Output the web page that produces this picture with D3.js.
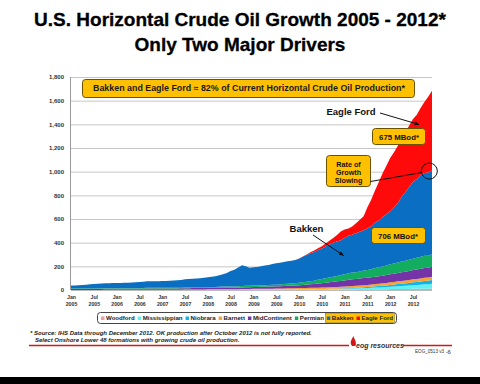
<!DOCTYPE html>
<html>
<head>
<meta charset="utf-8">
<script src="https://cdn.jsdelivr.net/npm/d3@7"></script>
<style>
  body { margin: 0; background: #fff; }
  svg { display: block; font-family: "Liberation Sans", Arial, sans-serif; }
</style>
</head>
<body>
<div id="chart"></div>
<script>
// monthly values, Jan 2005 - Dec 2012, MBod
const seriesNames = ["Woodford", "Mississippian", "Niobrara", "Barnett", "MidContinent", "Permian", "Bakken", "Eagle Ford"];

const woodford = [
  0,0,0,0,0,0,0,0,0,0,0,0,
  0,0,0,0,0,0,0,0,0,0,0,0,
  0,0,0,0,0,0,0,0,0,0,0,0,
  1,1,1,1,1,1,1,1,1,1,1,1,
  2,2,2,2,2,2,2,2,2,2,2,2,
  2,2,2,3,3,3,3,3,4,4,4,4,
  5,5,5,5,6,6,6,6,7,7,7,7,
  8,8,8,9,9,9,10,10,10,11,11,12
];
const mississippian = [
  0,0,0,0,0,0,0,0,0,0,0,0,
  0,0,0,0,0,0,0,0,0,0,0,0,
  0,0,0,0,0,0,1,1,1,1,1,1,
  1,1,1,1,1,1,1,1,1,2,2,2,
  2,2,2,2,2,2,2,2,3,3,3,3,
  3,3,3,3,3,3,4,4,4,4,4,5,
  5,6,7,8,9,10,11,12,14,15,17,18,
  20,22,24,25,27,29,31,33,35,37,38,40
];
const niobrara = [
  0,0,0,0,0,0,0,0,0,0,0,0,
  0,0,0,0,0,0,0,0,0,0,0,0,
  0,0,0,0,0,0,0,0,0,0,0,0,
  0,0,0,0,0,0,0,0,0,0,0,0,
  0,0,0,0,0,0,0,0,0,0,0,0,
  1,1,1,1,1,2,2,2,2,3,3,3,
  4,4,5,5,6,7,8,9,10,11,12,14,
  15,16,18,19,21,22,24,25,27,29,31,33
];
const barnett = [
  1,1,1,1,1,1,1,1,1,2,2,2,
  2,2,2,2,2,2,2,2,3,3,3,3,
  3,3,3,3,3,3,3,3,4,4,4,4,
  4,4,4,4,5,5,5,5,5,5,6,6,
  6,6,6,7,7,7,8,8,8,9,9,9,
  10,10,11,11,11,12,12,13,13,14,14,15,
  15,16,16,17,17,18,18,19,19,20,20,21,
  22,22,23,23,24,24,25,25,26,26,26,27
];
const midContinent = [
  8,8,8,8,8,8,8,8,9,9,9,9,
  9,9,9,9,9,9,9,9,10,10,10,10,
  10,10,10,10,10,11,11,11,11,11,11,12,
  12,12,12,12,13,13,13,13,14,14,15,15,
  16,16,17,17,18,19,19,20,21,22,23,24,
  25,27,29,31,33,35,37,40,43,45,48,50,
  52,55,57,58,59,60,61,62,63,64,65,66,
  68,70,71,73,74,76,78,80,81,83,82,85
];
const permian = [
  3,3,3,3,3,3,3,3,4,4,4,4,
  4,4,4,4,4,4,4,5,5,5,5,5,
  5,5,5,5,6,6,6,6,7,7,7,7,
  8,8,8,9,9,9,10,10,10,11,11,11,
  12,12,12,13,13,14,14,15,16,17,18,19,
  20,22,24,26,28,31,34,37,40,43,46,49,
  52,55,57,58,60,63,65,68,72,75,78,82,
  85,87,89,91,93,95,97,99,101,103,102,106
];
const bakken = [
  25,27,29,31,33,36,39,40,41,42,43,44,
  44,45,46,47,48,50,53,54,55,56,57,57,
  58,59,60,62,63,65,69,71,73,75,77,79,
  81,85,90,97,105,115,130,142,160,176,166,154,
  154,156,161,165,170,176,181,183,186,189,193,197,
  204,215,225,235,242,250,258,268,278,287,290,294,
  307,318,320,328,336,340,351,362,385,396,418,433,
  448,475,500,548,580,615,650,665,692,700,704,706
];
const eagleFord = [
  0,0,0,0,0,0,0,0,0,0,0,0,
  0,0,0,0,0,0,0,0,0,0,0,0,
  0,0,0,0,0,0,0,0,0,0,0,0,
  0,0,0,0,0,0,0,0,0,0,0,0,
  0,0,0,0,0,0,0,0,0,0,0,0,
  1,3,6,10,13,16,20,25,32,40,55,75,
  72,60,70,85,100,120,180,225,270,325,370,410,
  450,465,485,495,505,520,530,545,565,600,640,675
];

const yTicks = [0, 200, 400, 600, 800, 1000, 1200, 1400, 1600, 1800];
const xTickMonths = ["Jan", "Jul"];
const years = [2005, 2006, 2007, 2008, 2009, 2010, 2011, 2012];

const colors = {
  "Woodford": "#f79a9a",
  "Mississippian": "#5ef2f2",
  "Niobrara": "#10b4e8",
  "Barnett": "#f7a432",
  "MidContinent": "#7433a6",
  "Permian": "#12ad5e",
  "Bakken": "#0a6fc2",
  "Eagle Ford": "#ff0a0a"
};

const W = 480, H = 384;
const svg = d3.select("#chart").append("svg").attr("width", W).attr("height", H);

// ---- titles
svg.append("text").attr("x", 240).attr("y", 26).attr("text-anchor", "middle")
  .attr("font-size", 19).attr("font-weight", "bold").attr("fill", "#000")
  .attr("stroke", "#000").attr("stroke-width", 0.3)
  .text("U.S. Horizontal Crude Oil Growth 2005 - 2012*");
svg.append("text").attr("x", 240).attr("y", 51).attr("text-anchor", "middle")
  .attr("font-size", 19).attr("font-weight", "bold").attr("fill", "#000")
  .attr("stroke", "#000").attr("stroke-width", 0.3)
  .text("Only Two Major Drivers");

// ---- data rows
const allSeries = [woodford, mississippian, niobrara, barnett, midContinent, permian, bakken, eagleFord];
const rows = bakken.map((_, i) => {
  const r = { i };
  seriesNames.forEach((k, j) => { r[k] = allSeries[j][i]; });
  return r;
});
const stacked = d3.stack().keys(seriesNames)(rows);

const plot = { left: 71, right: 432, top: 77, bottom: 290 };
const x = d3.scaleLinear().domain([0, rows.length - 1]).range([plot.left, plot.right]);
const y = d3.scaleLinear().domain([0, 1800]).range([plot.bottom, plot.top]);

// gridlines
svg.append("g").selectAll("line").data(yTicks.filter(d => d > 0)).join("line")
  .attr("x1", plot.left).attr("x2", plot.right)
  .attr("y1", d => y(d) + 0.5).attr("y2", d => y(d) + 0.5)
  .attr("stroke", "#c6c6c6").attr("stroke-width", 1);

// areas
const area = d3.area().x(d => x(d.data.i)).y0(d => y(d[0])).y1(d => y(d[1]));
svg.append("g").selectAll("path").data(stacked).join("path")
  .attr("d", area).attr("fill", d => colors[d.key]);

// axes
svg.append("line").attr("x1", plot.left - 0.5).attr("x2", plot.left - 0.5)
  .attr("y1", plot.top).attr("y2", plot.bottom).attr("stroke", "#999");
svg.append("line").attr("x1", plot.left).attr("x2", plot.right)
  .attr("y1", plot.bottom + 0.5).attr("y2", plot.bottom + 0.5).attr("stroke", "#bbb");

const yAxis = svg.append("g").attr("transform", `translate(${plot.left - 4},0)`)
  .call(d3.axisLeft(y).tickValues(yTicks).tickSize(0).tickFormat(d3.format(",")));
yAxis.select(".domain").remove();
yAxis.selectAll("text").attr("font-size", 6).attr("font-weight", "bold")
  .attr("fill", "#333").attr("font-family", "Liberation Sans, Arial, sans-serif");

const xTicks = [];
years.forEach(yr => xTickMonths.forEach((m, k) => xTicks.push({ i: (yr - 2005) * 12 + k * 6, m, yr })));
const xAxis = svg.append("g").attr("transform", `translate(0,${plot.bottom})`)
  .call(d3.axisBottom(x).tickValues(xTicks.map(d => d.i)).tickSize(0).tickFormat(""));
xAxis.select(".domain").remove();
xAxis.selectAll(".tick").each(function(d) {
  const t = xTicks.find(e => e.i === d);
  const g = d3.select(this);
  g.append("text").attr("y", 8.8).attr("text-anchor", "middle").attr("font-size", 5.2)
    .attr("font-weight", "bold").attr("fill", "#333").text(t.m);
  g.append("text").attr("y", 15.8).attr("text-anchor", "middle").attr("font-size", 5.2)
    .attr("font-weight", "bold").attr("fill", "#333").text(t.yr);
});

// ---- annotations
const gold = "#ffc000", goldEdge = "#6b5200";
function box(x0, y0, w, h) {
  svg.append("rect").attr("x", x0 + 0.5).attr("y", y0 + 0.5).attr("width", w).attr("height", h)
    .attr("rx", 3).attr("fill", gold).attr("stroke", goldEdge).attr("stroke-width", 1);
}
box(82, 79, 332, 18);
svg.append("text").attr("x", 93).attr("y", 91.2)
  .attr("font-size", 8.3).attr("font-weight", "bold").attr("fill", "#1a1a1a")
  .attr("textLength", 312).attr("lengthAdjust", "spacingAndGlyphs")
  .text("Bakken and Eagle Ford \u2248 82% of Current Horizontal Crude Oil Production*");

svg.append("defs").append("marker").attr("id", "arr").attr("viewBox", "0 0 10 10")
  .attr("refX", 9).attr("refY", 5).attr("markerWidth", 5).attr("markerHeight", 5)
  .attr("orient", "auto").append("path").attr("d", "M0,1L10,5L0,9z").attr("fill", "#111");

svg.append("text").attr("x", 351).attr("y", 115).attr("text-anchor", "middle")
  .attr("font-size", 9.5).attr("font-weight", "bold").attr("fill", "#111").text("Eagle Ford");
svg.append("line").attr("x1", 380).attr("y1", 113).attr("x2", 419).attr("y2", 124.5)
  .attr("stroke", "#111").attr("stroke-width", 1).attr("marker-end", "url(#arr)");

box(372, 128, 53, 16);
svg.append("text").attr("x", 399).attr("y", 139.5).attr("text-anchor", "middle")
  .attr("font-size", 7.8).attr("font-weight", "bold").attr("fill", "#111").text("675 MBod*");

box(326, 155, 44, 31);
["Rate of", "Growth", "Slowing"].forEach((s, k) => {
  svg.append("text").attr("x", 348.5).attr("y", 166.5 + k * 8.3).attr("text-anchor", "middle")
    .attr("font-size", 7.2).attr("font-weight", "bold").attr("fill", "#111").text(s);
});
svg.append("line").attr("x1", 370.5).attr("y1", 181.5).attr("x2", 422).attr("y2", 172.5)
  .attr("stroke", "#111").attr("stroke-width", 1);
svg.append("circle").attr("cx", x(94.3)).attr("cy", y(1005)).attr("r", 8)
  .attr("fill", "none").attr("stroke", "#111").attr("stroke-width", 1);

svg.append("text").attr("x", 306.5).attr("y", 231.5).attr("text-anchor", "middle")
  .attr("font-size", 9.5).attr("font-weight", "bold").attr("fill", "#111").text("Bakken");
svg.append("line").attr("x1", 313).attr("y1", 235).attr("x2", 343.5).attr("y2", 255.5)
  .attr("stroke", "#111").attr("stroke-width", 1).attr("marker-end", "url(#arr)");

box(371, 227, 54, 16);
svg.append("text").attr("x", 398).attr("y", 238.5).attr("text-anchor", "middle")
  .attr("font-size", 7.8).attr("font-weight", "bold").attr("fill", "#111").text("706 MBod*");

// ---- legend
const legend = svg.append("g");
legend.append("rect").attr("x", 97.5).attr("y", 312.5).attr("width", 299).attr("height", 11)
  .attr("rx", 3).attr("fill", "#fff").attr("stroke", "#444");
const hl = legend.append("rect").attr("y", 313.5).attr("height", 9).attr("fill", gold)
  .attr("stroke", "#8a6a00").attr("stroke-width", 0.5);
const items = seriesNames.map(k => {
  const g = legend.append("g");
  g.append("rect").attr("y", 316.5).attr("width", 3.5).attr("height", 3.5).attr("fill", colors[k]);
  const t = g.append("text").attr("y", 320.3).attr("font-size", 6.1).attr("font-weight", "bold")
    .attr("fill", "#222").text(k);
  return { k, g, w: t.node().getComputedTextLength() };
});
// spread items between the box edges
const lStart = 101, lEnd = 393;
const used = d3.sum(items, d => d.w + 5);
const gap = (lEnd - lStart - used) / (items.length - 1);
let lx = lStart, hlStart = 0;
items.forEach(d => {
  if (d.k === "Bakken") hlStart = lx - 1.5;
  d.g.select("rect").attr("x", lx);
  d.g.select("text").attr("x", lx + 5);
  lx += d.w + 5 + gap;
});
hl.attr("x", hlStart).attr("width", lEnd + 1.5 - hlStart);

// ---- footer
const foot = svg.append("g").attr("font-size", 6).attr("font-weight", "bold")
  .attr("font-style", "italic").attr("fill", "#222");
foot.append("text").attr("x", 30).attr("y", 334.5)
  .text("* Source: IHS Data through December 2012. OK production after October 2012 is not fully reported.");
foot.append("text").attr("x", 35).attr("y", 341.5)
  .text("Select Onshore Lower 48 formations with growing crude oil production.");

svg.append("line").attr("x1", 29).attr("x2", 349).attr("y1", 345.5).attr("y2", 345.5)
  .attr("stroke", "#d01818").attr("stroke-width", 1.5);
svg.append("line").attr("x1", 403).attr("x2", 452).attr("y1", 345.5).attr("y2", 345.5)
  .attr("stroke", "#d01818").attr("stroke-width", 1.5);
svg.append("path").attr("d", "M352,346 C349,342 352,339 353.5,336 C354,339 357,341 355.5,346 Z")
  .attr("fill", "#d01818");
svg.append("text").attr("x", 356).attr("y", 347.5).attr("font-size", 7).attr("font-weight", "bold")
  .attr("font-style", "italic").attr("fill", "#333").text("eog resources");
const code = svg.append("text").attr("x", 415).attr("y", 353).attr("font-size", 4.6).attr("fill", "#333")
  .text("EOG_0513 v3");
svg.append("text").attr("x", 415 + code.node().getComputedTextLength() + 1.5).attr("y", 353.5)
  .attr("font-size", 6).attr("fill", "#333").text("-6");

svg.append("rect").attr("x", 0).attr("y", 377).attr("width", W).attr("height", 7).attr("fill", "#000");
</script>
</body>
</html>
